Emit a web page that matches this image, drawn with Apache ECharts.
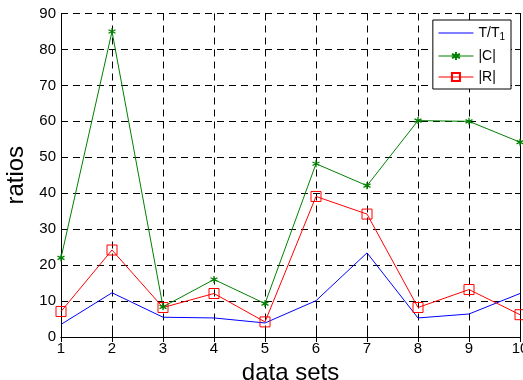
<!DOCTYPE html>
<html>
<head>
<meta charset="utf-8">
<script src="https://cdn.jsdelivr.net/npm/echarts@6/dist/echarts.min.js"></script>
<style>
  html, body { margin: 0; padding: 0; background: #fff; }
  #chart { width: 523px; height: 380px; }
</style>
</head>
<body>
<div id="chart"></div>
<script>
// data sets 1..10
const dataSets = [1, 2, 3, 4, 5, 6, 7, 8, 9, 10]
const ratioT = [3.5, 12.3, 5.5, 5.3, 3.9, 10.1, 23.4, 5.3, 6.4, 12.1]
const ratioC = [22, 85, 8.4, 16, 9.3, 48.2, 42.1, 60.2, 60, 54.2]
const ratioR = [7.1, 24.2, 8.2, 12.1, 4.2, 39.1, 34.2, 8.2, 13.2, 6.2]

const font = 'Liberation Sans, Arial, sans-serif'
// asterisk marker like matlab '*'
const starPath = 'path://M5,0 L5,10 M0.7,2.5 L9.3,7.5 M0.7,7.5 L9.3,2.5'
const squarePath = 'path://M0,0 L10,0 L10,10 L0,10 Z'
// plain line for the legend of the blue series
const linePath = 'path://M0,0 L0,0 M0,4.4 L35,4.4 L35,5.6 L0,5.6 Z M35,10 L35,10'

const pairs = arr => arr.map((v, i) => [dataSets[i], v])

const chart = echarts.init(document.getElementById('chart'))

const tickStyle = { show: true, inside: true, length: 5, lineStyle: { color: '#000' } }
const gridLine = { show: true, lineStyle: { color: '#000', type: [7, 5], width: 1 } }

chart.setOption({
  animation: false,
  grid: { left: 61, right: 3, top: 13.5, bottom: 43, show: false, outerBoundsMode: 'none', containLabel: false },
  legend: {
    orient: 'vertical',
    right: 12,
    top: 20,
    itemWidth: 35,
    itemHeight: 10,
    itemGap: 7,
    padding: [6, 6, 5, 5],
    borderColor: '#000',
    borderWidth: 1,
    borderRadius: 0,
    backgroundColor: '#fff',
    lineStyle: { width: 1.2 },
    textStyle: {
      fontFamily: font, fontSize: 14, color: '#000',
      rich: { sub: { fontSize: 10, verticalAlign: 'bottom', padding: [8, 0, 0, 0], fontFamily: font } }
    },
    formatter: name => name === 'T/T1' ? 'T/T{sub|1}' : name,
    data: [{ name: 'T/T1', icon: linePath, itemStyle: { color: '#0000ff' } }, '|C|', '|R|']
  },
  xAxis: [{
    type: 'value', min: 1, max: 10, interval: 1,
    name: 'data sets', nameLocation: 'middle', nameGap: 18,
    nameTextStyle: { fontFamily: font, fontSize: 24, color: '#000' },
    axisLine: { show: true, onZero: false, lineStyle: { color: '#000' } },
    axisTick: tickStyle,
    axisLabel: { fontFamily: font, fontSize: 15, color: '#000', margin: 4, showMaxLabel: true },
    splitLine: gridLine
  }, {
    type: 'value', min: 1, max: 10, interval: 1, position: 'top',
    axisLine: { show: true, lineStyle: { color: '#000' } },
    axisTick: tickStyle, axisLabel: { show: false }, splitLine: { show: false }
  }],
  yAxis: [{
    type: 'value', min: 0, max: 90, interval: 10,
    name: 'ratios', nameLocation: 'middle', nameGap: 33,
    nameTextStyle: { fontFamily: font, fontSize: 24, color: '#000' },
    axisLine: { show: true, lineStyle: { color: '#000' } },
    axisTick: tickStyle,
    axisLabel: { fontFamily: font, fontSize: 15, color: '#000', margin: 5 },
    splitLine: gridLine
  }, {
    type: 'value', min: 0, max: 90, interval: 10, position: 'right',
    axisLine: { show: true, lineStyle: { color: '#000' } },
    axisTick: tickStyle, axisLabel: { show: false }, splitLine: { show: false }
  }],
  series: [
    {
      name: 'T/T1', type: 'line', data: pairs(ratioT),
      symbol: 'none', lineStyle: { color: '#0000ff', width: 1 },
      itemStyle: { color: '#0000ff' }
    },
    {
      name: '|C|', type: 'line', data: pairs(ratioC),
      symbol: starPath, symbolSize: 7,
      lineStyle: { color: '#008000', width: 1 },
      itemStyle: { color: '#008000', borderColor: '#008000', borderWidth: 1.3 }
    },
    {
      name: '|R|', type: 'line', data: pairs(ratioR),
      symbol: squarePath, symbolSize: 10,
      lineStyle: { color: '#ff0000', width: 1 },
      itemStyle: { color: 'rgba(255,255,255,0)', borderColor: '#ff0000', borderWidth: 1 }
    }
  ]
})
</script>
</body>
</html>
